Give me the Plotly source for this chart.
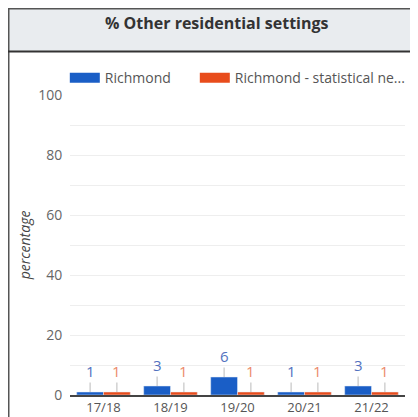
import plotly.graph_objects as go

categories = ["17/18", "18/19", "19/20", "20/21", "21/22"]
richmond = [1, 3, 6, 1, 3]
neighbours = [1, 1, 1, 1, 1]
series_names = ["Richmond", "Richmond - statistical ne..."]
bar_colors = ["#1a5ec6", "#e84c1c"]
label_colors = ["#5272c0", "#ec8a6a"]
legend_widths = [85, 190]
y_tickvals = [0, 10, 20, 30, 40, 50, 60, 70, 80, 90, 100]
y_ticktext = ["0", "", "20", "", "40", "", "60", "", "80", "", "100"]

FONT = "Open Sans"
# page body has an 8px margin, so the figure starts at (8, 8) in the window
W, H = 410, 409
L, R, T, B = 62, 13, 87, 22
pw, ph = W - L - R, H - T - B


def px_x(p):
    return (p - L) / pw


def px_y(p):
    return (H - B - p) / ph


fig = go.Figure()
for vals, name, col, lw in zip([richmond, neighbours], series_names, bar_colors,
                               legend_widths):
    fig.add_trace(go.Bar(x=categories, y=vals, name=name, marker_color=col,
                         showlegend=False, hoverinfo="x+y"))
    fig.add_trace(go.Scatter(x=[None], y=[None], mode="lines", name=name,
                             line=dict(color=col, width=13), showlegend=True,
                             legendwidth=lw))

# value labels with leader lines
group_w = pw / len(categories) * 0.8
shift = group_w / 4
annotations = []
for vals, lc, sgn in zip([richmond, neighbours], label_colors, [-1, 1]):
    for c, v in zip(categories, vals):
        annotations.append(dict(x=c, y=v, xref="x", yref="y", text=str(v),
                                showarrow=True, arrowhead=0, arrowwidth=1,
                                arrowcolor="#bbbbbb", ax=0, ay=-21,
                                xshift=sgn * shift,
                                font=dict(family=FONT, size=15, color=lc)))

annotations.append(dict(x=px_x(209), y=px_y(15), xref="paper", yref="paper",
                        text="<b>% Other residential settings</b>", showarrow=False,
                        font=dict(family=FONT, size=16, color="#333333"),
                        xanchor="center", yanchor="middle"))

shapes = [
    # header
    dict(type="rect", xref="paper", yref="paper", x0=px_x(0), x1=px_x(W),
         y0=px_y(43.5), y1=px_y(0), fillcolor="#e9ecef",
         line=dict(width=0), layer="below"),
    # top border
    dict(type="line", xref="paper", yref="paper", x0=px_x(0), x1=px_x(W),
         y0=px_y(0.75), y1=px_y(0.75), line=dict(color="#555555", width=1.5),
         layer="below"),
    # left border
    dict(type="line", xref="paper", yref="paper", x0=px_x(0.75), x1=px_x(0.75),
         y0=px_y(0), y1=px_y(H), line=dict(color="#555555", width=1.5),
         layer="below"),
    # header bottom line
    dict(type="line", xref="paper", yref="paper", x0=px_x(0), x1=px_x(W),
         y0=px_y(43.5), y1=px_y(43.5), line=dict(color="#333333", width=2),
         layer="below"),
]

fig.update_layout(
    width=W, height=H,
    margin=dict(l=L, r=R, t=T, b=B, pad=0, autoexpand=False),
    paper_bgcolor="#ffffff",
    plot_bgcolor="rgba(0,0,0,0)",
    barmode="group", bargap=0.2, bargroupgap=0,
    font=dict(family=FONT, color="#555555", size=13),
    showlegend=True,
    legend=dict(orientation="h", x=-0.0155, xanchor="left", y=1.003, yanchor="bottom",
                font=dict(family=FONT, size=14, color="#555555"),
                bgcolor="rgba(0,0,0,0)", itemwidth=30),
    annotations=annotations,
    shapes=shapes,
    xaxis=dict(type="category", showgrid=False, showline=True, automargin=False,
               linecolor="#444444", linewidth=1.5, ticks="",
               tickfont=dict(family=FONT, size=13, color="#555555")),
    yaxis=dict(range=[0, 100], tickvals=y_tickvals, ticktext=y_ticktext,
               showgrid=True, gridcolor="#eeeeee", zeroline=False, automargin=False,
               ticks="outside", ticklen=4, tickcolor="rgba(0,0,0,0)",
               tickfont=dict(family=FONT, size=14, color="#666666"),
               title=dict(text="<i>percentage</i>", standoff=4,
                          font=dict(family=FONT, size=14, color="#444444"))),
)

fig.write_html("out.html")
